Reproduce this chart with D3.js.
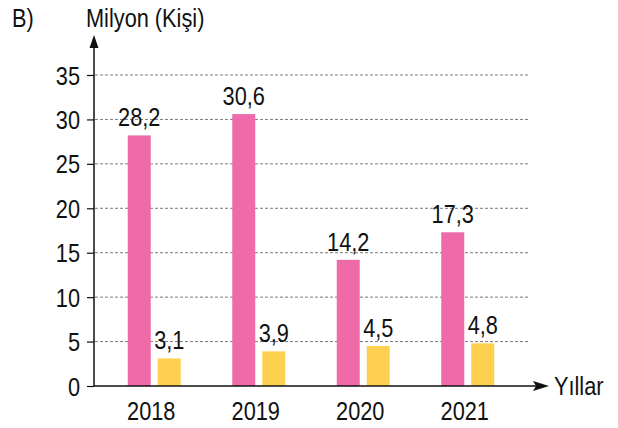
<!DOCTYPE html>
<html lang="tr">
<head>
	<meta charset="UTF-8">
	<title>Milyon (Kişi)</title>
	<style>
		body { margin: 0; background: #fff; }
		text { font-family: "Liberation Sans", Arial, sans-serif; fill: #111; }
	</style>
</head>
<body>
	<svg id="chart" width="618" height="428"></svg>
</body>
<script src="https://cdn.jsdelivr.net/npm/d3@7"></script>
<script>
	// data
	let years = ["2018", "2019", "2020", "2021"];
	let series = ["pembe", "sari"];
	let pinkValues = [28.2, 30.6, 14.2, 17.3];
	let yellowValues = [3.1, 3.9, 4.5, 4.8];
	let yTicks = [0, 5, 10, 15, 20, 25, 30, 35];
	let colors = { pembe: "#ef6aa8", sari: "#fdd14f" };

	let svg = d3.select("#chart");

	let x0 = d3.scaleBand().domain(years).range([102, 520]);
	let mid = x0.bandwidth() / 2;
	let x1 = d3.scaleBand().domain(series).range([mid - 26.5, mid + 26.5]).paddingInner(0.233);
	let y = d3.scaleLinear().domain([0, 35]).range([386, 75]);

	// squeeze text a bit, the original font is condensed
	function narrow(sel) {
		sel.each(function () {
			let t = d3.select(this);
			let tx = +t.attr("x") || 0, ty = +t.attr("y") || 0;
			t.attr("x", 0).attr("y", 0)
				.attr("transform", `translate(${tx},${ty}) scale(0.87,1)`);
		});
	}

	// grid
	svg.append("g")
		.selectAll("line")
		.data(yTicks.filter(d => d > 0))
		.enter()
		.append("line")
		.attr("x1", 95).attr("x2", 530)
		.attr("y1", d => y(d)).attr("y2", d => y(d))
		.attr("stroke", "#7a7a7a")
		.attr("stroke-width", 1)
		.attr("stroke-dasharray", "3,2");

	// bars
	let rows = years.map((yr, i) => ({ year: yr, pembe: pinkValues[i], sari: yellowValues[i] }));
	let groups = svg.append("g")
		.selectAll("g")
		.data(rows)
		.enter()
		.append("g")
		.attr("transform", d => `translate(${x0(d.year)},0)`);

	let cells = groups.selectAll("g")
		.data(d => series.map(s => ({ key: s, value: d[s] })))
		.enter()
		.append("g");

	cells.append("rect")
		.attr("x", d => x1(d.key))
		.attr("width", x1.bandwidth())
		.attr("y", d => y(d.value))
		.attr("height", d => y(0) - y(d.value))
		.attr("fill", d => colors[d.key]);

	cells.append("text")
		.attr("x", d => x1(d.key) + x1.bandwidth() / 2)
		.attr("y", d => y(d.value) - 9)
		.attr("text-anchor", "middle")
		.attr("font-size", "25px")
		.text(d => String(d.value).replace(".", ","))
		.call(narrow);

	// y axis
	let yAxis = svg.append("g")
		.attr("transform", "translate(94,0)")
		.call(d3.axisLeft(y).tickValues(yTicks).tickSize(7).tickPadding(0));
	yAxis.select(".domain").remove();
	yAxis.selectAll(".tick line").attr("stroke", "#111").attr("stroke-width", 1.2);
	yAxis.selectAll(".tick text")
		.attr("font-size", "25px").attr("fill", "#111")
		.attr("dy", null).attr("x", -14).attr("y", 9)
		.call(narrow);

	svg.append("line")
		.attr("x1", 94).attr("x2", 94)
		.attr("y1", y(0)).attr("y2", 46)
		.attr("stroke", "#111").attr("stroke-width", 1.5);
	svg.append("path")
		.attr("d", "M94,35 L89.5,48 L98.5,48 Z")
		.attr("fill", "#111");

	// x axis
	svg.append("line")
		.attr("x1", 94).attr("x2", 538)
		.attr("y1", y(0)).attr("y2", y(0))
		.attr("stroke", "#111").attr("stroke-width", 1.5);
	svg.append("path")
		.attr("d", `M549,${y(0)} L533,${y(0) - 5} L536,${y(0)} L533,${y(0) + 5} Z`)
		.attr("fill", "#111");

	svg.append("g")
		.selectAll("text")
		.data(years)
		.enter()
		.append("text")
		.attr("x", d => x0(d) + mid - 3)
		.attr("y", 420)
		.attr("text-anchor", "middle")
		.attr("font-size", "25px")
		.text(d => d)
		.call(narrow);

	// titles
	svg.append("text").attr("x", 554).attr("y", 395).attr("font-size", "25px").text("Yıllar").call(narrow);
	svg.append("text").attr("x", 86).attr("y", 27).attr("font-size", "25px").text("Milyon (Kişi)").call(narrow);
	svg.append("text").attr("x", 12).attr("y", 27).attr("font-size", "25px").text("B)").call(narrow);
</script>
</html>
